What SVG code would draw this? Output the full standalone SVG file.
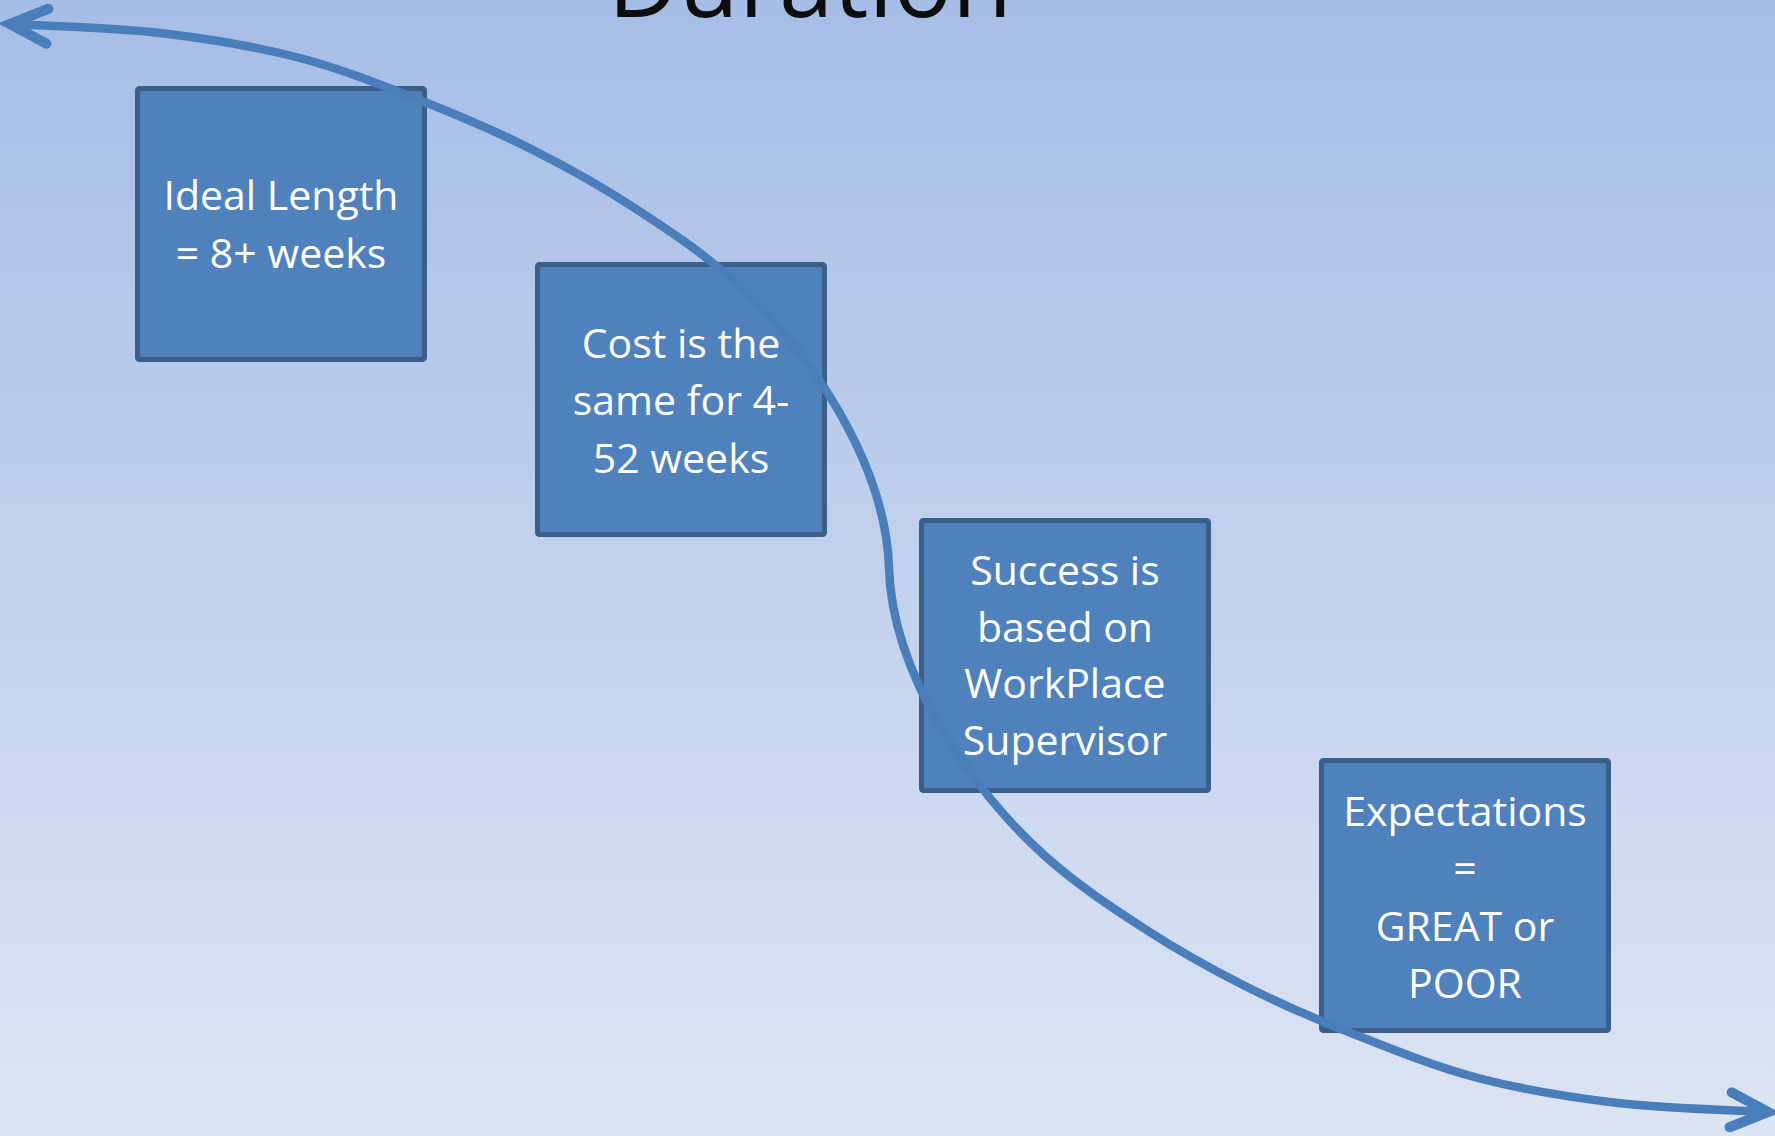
<svg xmlns="http://www.w3.org/2000/svg" width="1775" height="1136" viewBox="0 0 1775 1136">
  <defs>
    <linearGradient id="bg" x1="0" y1="0" x2="0" y2="1">
      <stop offset="0" stop-color="#a6bde6"/>
      <stop offset="1" stop-color="#dde5f4"/>
    </linearGradient>
    <marker id="chev" markerUnits="strokeWidth" viewBox="-7 -4 8 8" markerWidth="8" markerHeight="8" refX="0" refY="0" orient="auto-start-reverse" overflow="visible">
      <path d="M -4.4,-2.05 L 0,0 L -4.4,2.05" fill="none" stroke="#4a7ebb" stroke-width="1.2" stroke-linecap="round" stroke-linejoin="miter"/>
    </marker>
  </defs>
  <style>
    .box { fill: #4f81bd; stroke: #3a5f8b; stroke-width: 5; }
    .lbl { font-family: "Open Sans", "Liberation Sans", sans-serif; font-size: 41px; fill: #ffffff; text-anchor: middle; }
    .title { font-family: "Open Sans", "Liberation Sans", sans-serif; font-size: 98px; fill: #0d0d0d; text-anchor: middle; }
    .conn { fill: none; stroke: #4a7ebb; stroke-width: 8.5; stroke-linecap: round; }
  </style>
  <rect x="0" y="0" width="1775" height="1136" fill="url(#bg)"/>
  <text class="title" x="810" y="17">Duration</text>

  <g id="node-ideal-length">
    <rect class="box" x="137.5" y="88.5" width="287" height="271" rx="2"/>
    <text class="lbl" x="281" y="210">Ideal Length</text>
    <text class="lbl" x="281" y="268">= 8+ weeks</text>
  </g>
  <g id="node-cost">
    <rect class="box" x="537.5" y="264.5" width="287" height="270" rx="2"/>
    <text class="lbl" x="681" y="358">Cost is the</text>
    <text class="lbl" x="681" y="415">same for 4-</text>
    <text class="lbl" x="681" y="473">52 weeks</text>
  </g>
  <g id="node-success">
    <rect class="box" x="921.5" y="520.5" width="287" height="270" rx="2"/>
    <text class="lbl" x="1065" y="585">Success is</text>
    <text class="lbl" x="1065" y="642">based on</text>
    <text class="lbl" x="1065" y="698">WorkPlace</text>
    <text class="lbl" x="1065" y="755">Supervisor</text>
  </g>
  <g id="node-expectations">
    <rect class="box" x="1321.5" y="760.5" width="287" height="270" rx="2"/>
    <text class="lbl" x="1465" y="826">Expectations</text>
    <text class="lbl" x="1465" y="883">=</text>
    <text class="lbl" x="1465" y="941">GREAT or</text>
    <text class="lbl" x="1465" y="998">POOR</text>
  </g>

  <g id="connectors">
    <path class="conn" marker-start="url(#chev)" marker-end="url(#chev)" d="M 10,24
      C 35,25.5 111.7,27.3 160,33
      C 208.3,38.7 255.5,46.3 300,58
      C 344.5,69.7 388.2,87.7 427,103
      C 465.8,118.3 498.7,132.7 533,150
      C 567.3,167.3 599.7,185.3 633,207
      C 666.3,228.7 700.7,251.2 733,280
      C 807.6,346.6 885.9,463 889,568
      C 892.1,673 970.4,789.4 1045,856
      C 1077.3,884.8 1111.7,907.3 1145,929
      C 1178.3,950.7 1210.7,968.7 1245,986
      C 1279.3,1003.3 1312.2,1017.7 1351,1033
      C 1389.8,1048.3 1433.5,1066.3 1478,1078
      C 1522.5,1089.7 1569.7,1097.3 1618,1103
      C 1666.3,1108.7 1743,1110.5 1768,1112"/>
  </g>
</svg>
